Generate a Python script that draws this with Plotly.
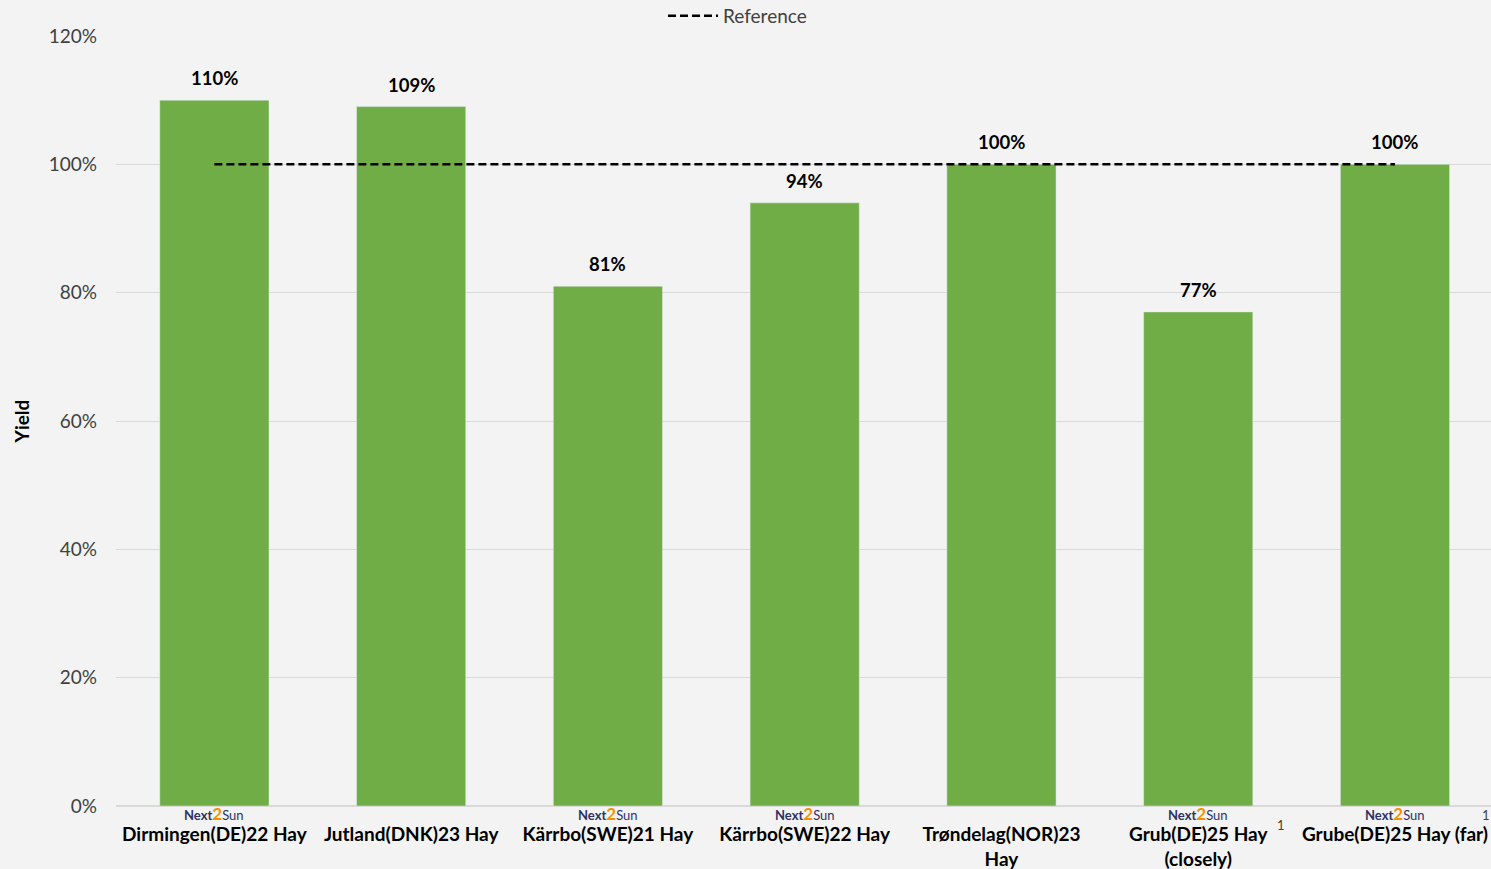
import plotly.graph_objects as go

# Sites / seasons and relative hay yield (%)
categories = [
    "Dirmingen(DE)22 Hay",
    "Jutland(DNK)23 Hay",
    "Kärrbo(SWE)21 Hay",
    "Kärrbo(SWE)22 Hay",
    "Trøndelag(NOR)23<br>Hay",
    "Grub(DE)25 Hay<br>(closely)",
    "Grube(DE)25 Hay (far)",
]
yield_pct = [110, 109, 81, 94, 100, 77, 100]
reference_pct = [100] * len(categories)
# Sites run with Next2Sun vertical bifacial systems
next2sun_sites = [0, 2, 3, 5, 6]
y_ticks = [0, 20, 40, 60, 80, 100, 120]
y_tick_labels = [f"{t}%" for t in y_ticks]

BAR = "#70ad47"
BG = "#f3f3f3"
GRID = "#d9d9d9"
TXT = "#404040"
FONT = "Lato"

fig = go.Figure()
fig.add_trace(go.Bar(
    x=categories, y=yield_pct, marker_color=BAR, showlegend=False,
    hoverinfo="x+y",
))
fig.add_trace(go.Scatter(
    x=categories, y=reference_pct, mode="lines", name="Reference",
    line=dict(color="#000000", width=2.5, dash="8px,4px"),
))

annotations = []
for c, v in zip(categories, yield_pct):
    annotations.append(dict(
        x=c, y=v, xref="x", yref="y", text=f"<b>{v}%</b>", showarrow=False,
        yanchor="bottom", yshift=9, font=dict(family=FONT, size=18.5, color="#000000"),
    ))

logo = ("<span style='color:#2e3166'><b>Next</b></span>"
        "<span style='color:#f39200;font-size:17px'><b>2</b></span>"
        "<span style='color:#2e3166'>Sun</span>")
for i in next2sun_sites:
    annotations.append(dict(
        x=categories[i], y=0, xref="x", yref="paper", text=logo, showarrow=False,
        yanchor="middle", yshift=-7, font=dict(family=FONT, size=13),
    ))

# footnote markers
annotations.append(dict(x=5.42, y=0, xref="x", yref="paper", text="1", showarrow=False,
                        yanchor="middle", yshift=-19, font=dict(family=FONT, size=13, color=TXT)))
annotations.append(dict(x=6.462, y=0, xref="x", yref="paper", text="1", showarrow=False,
                        yanchor="middle", yshift=-9, font=dict(family=FONT, size=13, color=TXT)))

fig.update_layout(
    width=1491, height=869,
    margin=dict(l=116, r=0, t=36, b=63, autoexpand=False),
    paper_bgcolor=BG, plot_bgcolor=BG,
    bargap=0.445,
    font=dict(family=FONT, size=18, color=TXT),
    legend=dict(orientation="h", x=0.452, xanchor="center", y=1.026, yanchor="middle",
                font=dict(family=FONT, size=19, color=TXT), bgcolor="rgba(0,0,0,0)",
                itemwidth=50),
    annotations=annotations,
    showlegend=True,
)
fig.update_xaxes(
    type="category", range=[-0.5, 6.488], showgrid=False, showline=False, ticks="",
    automargin=False,
    tickfont=dict(family=FONT, size=19, color="#000000", weight="bold"),
    ticklabelstandoff=15, tickangle=0,
)
fig.update_yaxes(
    range=[0, 120], tickvals=y_ticks, ticktext=y_tick_labels, automargin=False,
    showgrid=True, gridcolor=GRID, gridwidth=1,
    zeroline=True, zerolinecolor=GRID, zerolinewidth=1.5,
    showline=False, ticks="", ticklabelstandoff=18,
    tickfont=dict(family=FONT, size=19, color=TXT),
    title=dict(text="<b>Yield</b>", font=dict(family=FONT, size=19, color="#000000"), standoff=14),
)

fig.write_html("out.html")
